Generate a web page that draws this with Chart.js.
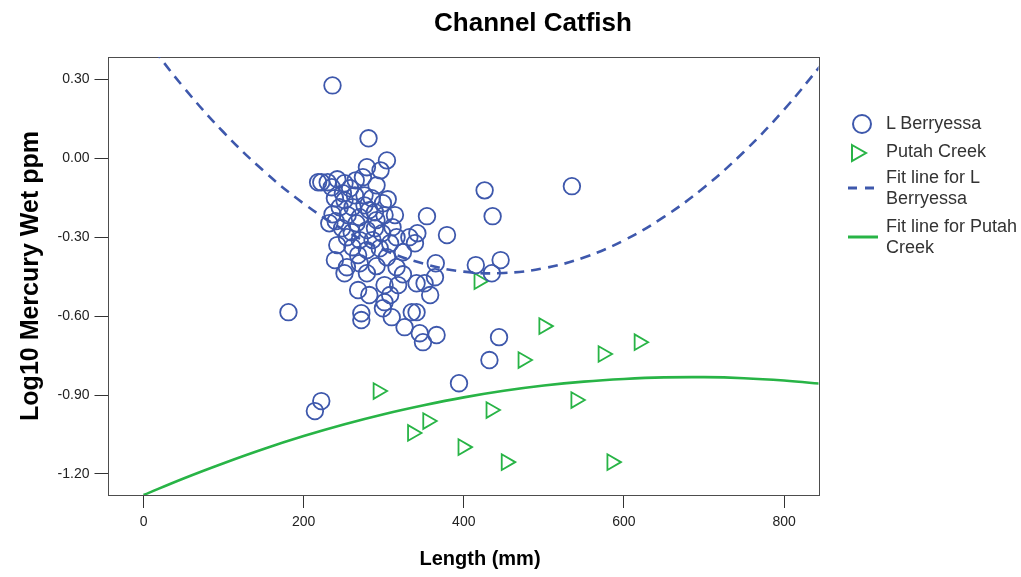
<!DOCTYPE html>
<html>
<head>
<meta charset="utf-8">
<title>Channel Catfish</title>
<script src="https://cdn.jsdelivr.net/npm/chart.js@4.4.1/dist/chart.umd.min.js"></script>
<style>
  html, body { margin: 0; padding: 0; background: #fff; }
  #wrap { position: relative; width: 1021px; height: 577px; font-family: "Liberation Sans", Arial, sans-serif; }
  #chart { position: absolute; left: 0; top: 0; }
  .title { position: absolute; left: 0; width: 1066px; top: 7px; line-height: 30px; text-align: center; font-weight: bold; font-size: 26px; color: #000; }
  .xtitle { position: absolute; left: 380px; width: 200px; top: 546px; line-height: 24px; text-align: center; font-weight: bold; font-size: 20px; color: #000; }
  .lg { position: absolute; font-size: 18px; line-height: 21px; color: #333; white-space: nowrap; }
  .ico { position: absolute; }
</style>
</head>
<body>
<div id="wrap">
  <canvas id="chart" width="1021" height="577"></canvas>
  <div class="title">Channel Catfish</div>
  <div class="xtitle">Length (mm)</div>

  <!-- legend -->
  <div class="ico" style="left:852px;top:114px;width:20px;height:20px;box-sizing:border-box;border:2px solid #3e58ac;border-radius:50%;"></div>
  <div class="lg" style="left:886px;top:113px;">L Berryessa</div>

  <svg class="ico" style="left:850px;top:143px" width="20" height="20">
    <polygon points="2,2 16,10 2,18" fill="none" stroke="#28b446" stroke-width="2"/>
  </svg>
  <div class="lg" style="left:886px;top:141px;">Putah Creek</div>

  <svg class="ico" style="left:846px;top:183px" width="34" height="10">
    <line x1="2" y1="5" x2="32" y2="5" stroke="#3e58ac" stroke-width="3" stroke-dasharray="9,8"/>
  </svg>
  <div class="lg" style="left:886px;top:167px;">Fit line for L<br>Berryessa</div>

  <svg class="ico" style="left:846px;top:232px" width="34" height="10">
    <line x1="2" y1="5" x2="32" y2="5" stroke="#28b446" stroke-width="3"/>
  </svg>
  <div class="lg" style="left:886px;top:216px;">Fit line for Putah<br>Creek</div>
</div>

<script>
/* ---- DATA ---- */
// L Berryessa fish: length (mm) / log10 mercury
const berryX = [
  236, 281, 304, 535, 426, 436, 354, 379, 415, 446, 435, 365, 181, 444, 432, 394, 222, 214,
  218, 222, 230, 235, 242, 258, 274, 291, 279, 296, 305, 239, 249, 245, 261, 282, 299, 236,
  232, 240, 270, 266, 291, 279, 298, 254, 286, 261, 279, 316, 332, 342, 308, 339, 304, 324,
  239, 254, 270, 291, 316, 251, 279, 324, 351, 364, 268, 301, 318, 341, 308, 358, 282, 272,
  272, 301, 299, 310, 326, 335, 341, 345, 366, 349,
  251, 264, 276, 285, 255, 276, 289, 248, 260, 270, 289, 242, 268, 295, 311, 265, 251, 301, 314
];
const berryY = [
  0.277, 0.076, -0.008, -0.106, -0.122, -0.220, -0.220, -0.292, -0.406, -0.387, -0.437, -0.399, -0.585, -0.680, -0.767, -0.855, -0.923, -0.961,
  -0.091, -0.091, -0.091, -0.110, -0.080, -0.114, -0.072, -0.103, -0.034, -0.046, -0.156, -0.152, -0.133, -0.186, -0.186, -0.197, -0.171, -0.213,
  -0.247, -0.239, -0.224, -0.247, -0.235, -0.273, -0.285, -0.300, -0.311, -0.338, -0.349, -0.300, -0.300, -0.285, -0.323, -0.323, -0.376, -0.357,
  -0.387, -0.414, -0.399, -0.410, -0.414, -0.437, -0.437, -0.441, -0.475, -0.452, -0.501, -0.482, -0.482, -0.475, -0.520, -0.520, -0.520, -0.589,
  -0.615, -0.547, -0.570, -0.604, -0.642, -0.585, -0.585, -0.665, -0.672, -0.699,
  -0.160, -0.141, -0.141, -0.152, -0.216, -0.179, -0.205, -0.266, -0.281, -0.311, -0.266, -0.330, -0.368, -0.342, -0.262, -0.084, -0.095, -0.216, -0.216
];

// Putah Creek fish
const putahX = [419, 500, 474, 574, 619, 293, 434, 540, 355, 336, 399, 453, 585];
const putahY = [-0.467, -0.638, -0.767, -0.744, -0.699, -0.885, -0.957, -0.919, -0.999, -1.044, -1.098, -1.155, -1.155];

// quadratic fit lines
const fitX = [0, 50, 100, 150, 200, 250, 300, 350, 400, 450, 500, 550, 600, 650, 700, 750, 800, 850];
const fitBerry = [0.464, 0.270, 0.099, -0.048, -0.172, -0.272, -0.348, -0.401, -0.431, -0.436, -0.418, -0.377, -0.312, -0.223, -0.111, 0.025, 0.185, 0.368];
const fitPutah = [-1.280, -1.217, -1.159, -1.105, -1.056, -1.012, -0.973, -0.939, -0.909, -0.884, -0.864, -0.849, -0.839, -0.833, -0.832, -0.836, -0.845, -0.858];

const xTicks = [0, 200, 400, 600, 800];
const yTicks = [-1.2, -0.9, -0.6, -0.3, 0, 0.3];

const BLUE = '#3e58ac';
const GREEN = '#28b446';

/* ---- frame around the plot ---- */
const frame = {
  id: 'frame',
  beforeDatasetsDraw(chart) {
    const { ctx, chartArea: a } = chart;
    ctx.save();
    ctx.strokeStyle = '#4d4d4d';
    ctx.lineWidth = 1;
    ctx.strokeRect(Math.round(a.left) + 0.5, Math.round(a.top) + 0.5,
                   Math.round(a.right - a.left), Math.round(a.bottom - a.top));
    ctx.restore();
  }
};

const pts = (xs, ys) => xs.map((x, i) => ({ x, y: ys[i] }));

new Chart(document.getElementById('chart'), {
  type: 'scatter',
  data: {
    datasets: [
      {
        label: 'L Berryessa',
        data: pts(berryX, berryY),
        pointStyle: 'circle',
        pointRadius: 8.3,
        pointBorderWidth: 1.8,
        pointBorderColor: BLUE,
        pointBackgroundColor: 'rgba(0,0,0,0)'
      },
      {
        label: 'Putah Creek',
        data: pts(putahX, putahY),
        pointStyle: 'triangle',
        pointRotation: 90,
        pointRadius: 9,
        pointBorderWidth: 1.8,
        pointBorderColor: GREEN,
        pointBackgroundColor: 'rgba(0,0,0,0)'
      },
      {
        label: 'Fit line for L Berryessa',
        data: pts(fitX, fitBerry),
        showLine: true,
        tension: 0.4,
        pointRadius: 0,
        borderColor: BLUE,
        borderWidth: 2.6,
        borderDash: [10, 7]
      },
      {
        label: 'Fit line for Putah Creek',
        data: pts(fitX, fitPutah),
        showLine: true,
        tension: 0.4,
        pointRadius: 0,
        borderColor: GREEN,
        borderWidth: 2.6
      }
    ]
  },
  options: {
    responsive: false,
    devicePixelRatio: 1,
    animation: false,
    layout: { padding: { left: 0, right: 202.5, top: 57, bottom: 0 } },
    plugins: {
      legend: { display: false },
      tooltip: { enabled: false },
      title: { display: false }
    },
    scales: {
      x: {
        type: 'linear',
        min: -45,
        max: 843,
        afterBuildTicks: s => { s.ticks = xTicks.map(v => ({ value: v })); },
        afterFit: s => { s.height = 82; },
        border: { display: false },
        grid: { drawOnChartArea: false, tickLength: 13, color: '#333', lineWidth: 1 },
        ticks: { color: '#222', font: { family: 'Liberation Sans', size: 14 }, padding: 6, maxRotation: 0 },
        title: { display: false }
      },
      y: {
        type: 'linear',
        min: -1.28,
        max: 0.385,
        afterBuildTicks: s => { s.ticks = yTicks.map(v => ({ value: v })); },
        afterFit: s => { s.width = 107.5; },
        border: { display: false },
        grid: { drawOnChartArea: false, tickLength: 13, color: '#333', lineWidth: 1 },
        ticks: {
          color: '#222',
          font: { family: 'Liberation Sans', size: 14 },
          padding: 5,
          callback: v => v.toFixed(2)
        },
        title: {
          display: true,
          text: 'Log10 Mercury Wet ppm',
          color: '#000',
          font: { family: 'Liberation Sans', size: 25, weight: 'bold' },
          padding: { top: 16, bottom: 0 }
        }
      }
    }
  },
  plugins: [frame]
});
</script>
</body>
</html>
